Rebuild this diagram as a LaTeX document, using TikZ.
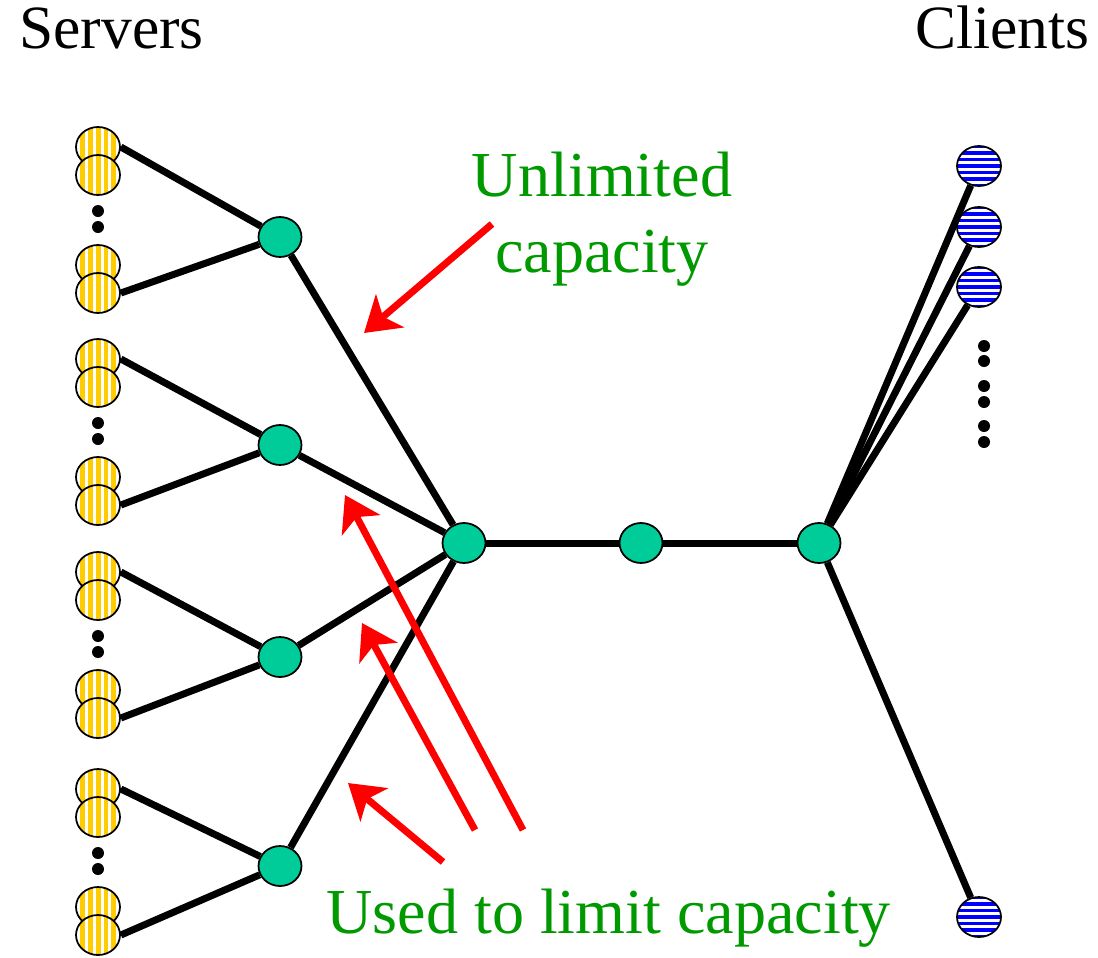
\documentclass[tikz,border=0pt]{standalone}
\usepackage{fontspec}
\setmainfont{Liberation Serif}
\usetikzlibrary{shapes.geometric,arrows.meta}

\definecolor{hubgreen}{RGB}{0,204,153}
\definecolor{srvyellow}{RGB}{255,204,0}
\definecolor{cltblue}{RGB}{0,0,255}
\definecolor{notegreen}{RGB}{0,153,0}

\begin{document}
\begin{tikzpicture}[x=0.02cm, y=-0.02cm,
  link/.style={line width=0.14cm},
  hub/.style={ellipse, draw, line width=1pt, fill=hubgreen,
    minimum width=0.86cm, minimum height=0.8cm, inner sep=0pt},
  server/.style={ellipse, draw, line width=1pt, fill=white,
    minimum width=0.88cm, minimum height=0.8cm, inner sep=0pt,
    path picture={\foreach \s in {-6,...,6}
      \fill[srvyellow] ([xshift=\s*0.16cm-0.05cm, yshift=-0.5cm]path picture bounding box.center)
        rectangle ++(0.1cm,1cm);}},
  client/.style={ellipse, draw, line width=1pt, fill=white,
    minimum width=0.88cm, minimum height=0.8cm, inner sep=0pt,
    path picture={\foreach \s in {-4,...,4}
      \fill[cltblue] ([xshift=-0.5cm, yshift=\s*0.13cm-0.035cm]path picture bounding box.center)
        rectangle ++(1cm,0.07cm);}},
  flow/.style={red, line width=0.14cm,
    -{Stealth[length=0.68cm, width=0.86cm, inset=0.18cm]}},
  titletext/.style={font=\fontsize{35}{42}\selectfont, inner sep=0pt},
  notetext/.style={font=\fontsize{36.5}{42.7}\selectfont, text=notegreen, inner sep=0pt}]

\useasboundingbox (0,0) rectangle (1098,957);

% Draw Titles

\node[titletext, anchor=base west] (srvtitle) at (19,48) {Servers};
\node[titletext, anchor=base east] (clttitle) at (1090,48) {Clients};

% Draw Hubs

\node[hub] (h1) at (280,237) {};
\node[hub] (h2) at (280,445) {};
\node[hub] (h3) at (280,657) {};
\node[hub] (h4) at (280,866) {};

\node[hub] (core) at (464,543) {};
\node[hub] (mid) at (641,543) {};
\node[hub] (edge) at (819,543) {};

% Draw Server groups

\foreach \top/\g in {147/1, 359/2, 572/3, 789/4} {
  \node[server] (s\g-1) at (98,\top) {};
  \node[server] (s\g-2) at (98,\top+28) {};
  \fill (98,\top+64) circle (0.12cm);
  \fill (98,\top+80) circle (0.12cm);
  \node[server] (s\g-3) at (98,\top+118) {};
  \node[server] (s\g-4) at (98,\top+146) {};
  \draw[link] (s\g-1.east) -- (h\g);
  \draw[link] (s\g-4.east) -- (h\g);
}

% Draw Clients

\node[client] (c1) at (979,166) {};
\node[client] (c2) at (979,227) {};
\node[client] (c3) at (979,287) {};
\node[client] (c4) at (979,917) {};

\foreach \y in {346,361,386,402,426,442}
  \fill (984,\y) circle (0.12cm);

% Draw Links

\draw[link] (h1) -- (core);
\draw[link] (h2) -- (core);
\draw[link] (h3) -- (core);
\draw[link] (h4) -- (core);
\draw[link] (core) -- (mid);
\draw[link] (mid) -- (edge);

\draw[link] (edge) -- (c1);
\draw[link] (edge) -- (c2);
\draw[link] (edge) -- (c3);
\draw[link] (edge) -- (c4);

% Draw Notes

\node[notetext, align=center, anchor=base] (unlim) at (602,272) {Unlimited\\capacity};
\node[notetext, anchor=base west] (used) at (326,933) {Used to limit capacity};

% Draw Arrows

\coordinate (u0) at (492,224);
\coordinate (u1) at (364,333);
\draw[flow] (u0) -- (u1);

\coordinate (l0) at (523,830);
\coordinate (l1) at (345,495);
\draw[flow] (l0) -- (l1);

\coordinate (m0) at (475,830);
\coordinate (m1) at (362,623);
\draw[flow] (m0) -- (m1);

\coordinate (k0) at (443,862);
\coordinate (k1) at (348,783);
\draw[flow] (k0) -- (k1);

\end{tikzpicture}
\end{document}
